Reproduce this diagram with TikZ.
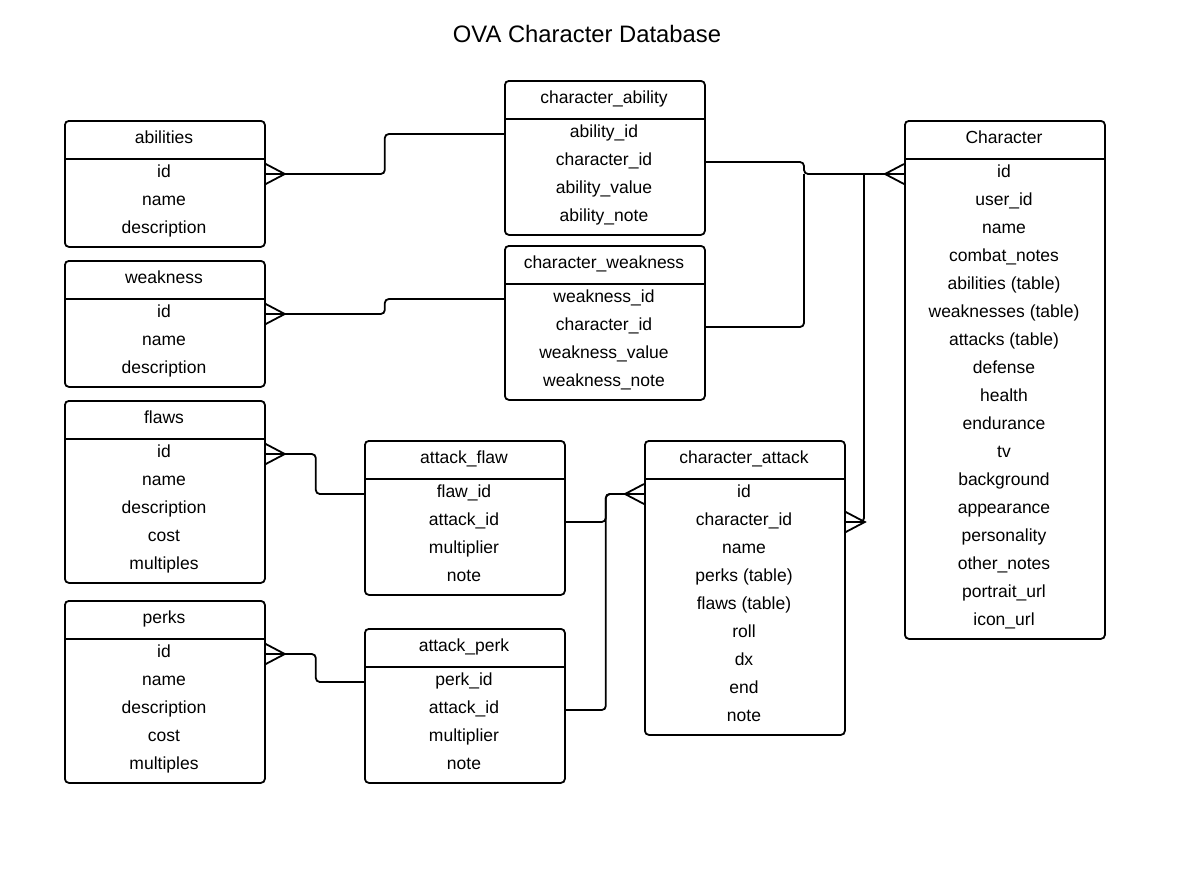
\documentclass[tikz,border=0pt]{standalone}
\usepackage{fontspec}
\setmainfont{Liberation Sans}
\tikzset{
  entity/.style={draw, line width=1.8pt, rounded corners=4pt, anchor=north west, minimum width=200pt, inner sep=0pt},
  hdr/.style={anchor=base, font=\fontsize{17.5}{20}\selectfont},
  field/.style={anchor=base, font=\fontsize{17.5}{20}\selectfont, text height=11pt, text depth=5pt, inner sep=0pt},
  conn/.style={line width=1.8pt, rounded corners=4pt},
  crowfoot/.pic={\draw[line width=1.8pt] (0,-10) -- (19,0) -- (0,10) (0,0) -- (19,0);}
}
\begin{document}
\begin{tikzpicture}[x=1pt, y=-1pt]
% Canvas
\fill[white] (0,0) rectangle (1193,873);
\useasboundingbox (0,0) rectangle (1193,873);
\node[anchor=base, font=\fontsize{23.8}{28}\selectfont] (title) at (587,42) {OVA Character Database};

% abilities
\node[entity, minimum height=126pt] (abilities) at (64,120) {};
\draw[line width=1.8pt] (abilities.north west) ++(0,39) -- ++(200,0);
\node[hdr] (abilities-h) at (164,143) {abilities};
\foreach \f [count=\i] in {id,name,description} \node[field] (abilities-\i) at (164,{149+28*\i}) {\f};

% weakness
\node[entity, minimum height=126pt] (weakness) at (64,260) {};
\draw[line width=1.8pt] (weakness.north west) ++(0,39) -- ++(200,0);
\node[hdr] (weakness-h) at (164,283) {weakness};
\foreach \f [count=\i] in {id,name,description} \node[field] (weakness-\i) at (164,{289+28*\i}) {\f};

% flaws
\node[entity, minimum height=182pt] (flaws) at (64,400) {};
\draw[line width=1.8pt] (flaws.north west) ++(0,39) -- ++(200,0);
\node[hdr] (flaws-h) at (164,423) {flaws};
\foreach \f [count=\i] in {id,name,description,cost,multiples} \node[field] (flaws-\i) at (164,{429+28*\i}) {\f};

% perks
\node[entity, minimum height=182pt] (perks) at (64,600) {};
\draw[line width=1.8pt] (perks.north west) ++(0,39) -- ++(200,0);
\node[hdr] (perks-h) at (164,623) {perks};
\foreach \f [count=\i] in {id,name,description,cost,multiples} \node[field] (perks-\i) at (164,{629+28*\i}) {\f};

% character_ability
\node[entity, minimum height=154pt] (chability) at (504,80) {};
\draw[line width=1.8pt] (chability.north west) ++(0,39) -- ++(200,0);
\node[hdr] (chability-h) at (604,103) {character\_ability};
\foreach \f [count=\i] in {ability\_id,character\_id,ability\_value,ability\_note} \node[field] (chability-\i) at (604,{109+28*\i}) {\f};

% character_weakness
\node[entity, minimum height=154pt] (chweakness) at (504,245) {};
\draw[line width=1.8pt] (chweakness.north west) ++(0,39) -- ++(200,0);
\node[hdr] (chweakness-h) at (604,268) {character\_weakness};
\foreach \f [count=\i] in {weakness\_id,character\_id,weakness\_value,weakness\_note} \node[field] (chweakness-\i) at (604,{274+28*\i}) {\f};

% attack_flaw
\node[entity, minimum height=154pt] (attflaw) at (364,440) {};
\draw[line width=1.8pt] (attflaw.north west) ++(0,39) -- ++(200,0);
\node[hdr] (attflaw-h) at (464,463) {attack\_flaw};
\foreach \f [count=\i] in {flaw\_id,attack\_id,multiplier,note} \node[field] (attflaw-\i) at (464,{469+28*\i}) {\f};

% attack_perk
\node[entity, minimum height=154pt] (attperk) at (364,628) {};
\draw[line width=1.8pt] (attperk.north west) ++(0,39) -- ++(200,0);
\node[hdr] (attperk-h) at (464,651) {attack\_perk};
\foreach \f [count=\i] in {perk\_id,attack\_id,multiplier,note} \node[field] (attperk-\i) at (464,{657+28*\i}) {\f};

% character_attack
\node[entity, minimum height=294pt] (chattack) at (644,440) {};
\draw[line width=1.8pt] (chattack.north west) ++(0,39) -- ++(200,0);
\node[hdr] (chattack-h) at (744,463) {character\_attack};
\foreach \f [count=\i] in {id,character\_id,name,perks (table),flaws (table),roll,dx,end,note} \node[field] (chattack-\i) at (744,{469+28*\i}) {\f};

% Character
\node[entity, minimum height=518pt] (character) at (904,120) {};
\draw[line width=1.8pt] (character.north west) ++(0,39) -- ++(200,0);
\node[hdr] (character-h) at (1004,143) {Character};
\foreach \f [count=\i] in {id,user\_id,name,combat\_notes,abilities (table),weaknesses (table),attacks (table),defense,health,endurance,tv,background,appearance,personality,other\_notes,portrait\_url,icon\_url} \node[field] (character-\i) at (1004,{149+28*\i}) {\f};

% Connectors
\coordinate (hub) at (804,174);
\coordinate (hub2) at (864,174);
\draw[conn] (abilities-1 -| abilities.east) -- ++(119,0) |- (chability-1 -| chability.west);
\draw[conn] (weakness-1 -| weakness.east) -- ++(119,0) |- (chweakness-1 -| chweakness.west);
\draw[conn] (chability-2 -| chability.east) -| (hub) -- (character-1 -| character.west);
\draw[conn] (chweakness-2 -| chweakness.east) -| (hub);
\draw[conn] (chattack-2 -| chattack.east) -| (hub2);
\draw[conn] (flaws-1 -| flaws.east) -- ++(50,0) |- (attflaw-1 -| attflaw.west);
\draw[conn] (perks-1 -| perks.east) -- ++(50,0) |- (attperk-1 -| attperk.west);
\draw[conn] (attflaw-2 -| attflaw.east) -- ++(40,0) |- (chattack-1 -| chattack.west);
\draw[conn] (attperk-2 -| attperk.east) -- ++(40,0) |- (chattack-1 -| chattack.west);

% Crow's feet
\path (abilities-1 -| abilities.east) pic {crowfoot};
\path (weakness-1 -| weakness.east) pic {crowfoot};
\path (flaws-1 -| flaws.east) pic {crowfoot};
\path (perks-1 -| perks.east) pic {crowfoot};
\path (chattack-2 -| chattack.east) pic {crowfoot};
\path (character-1 -| character.west) pic[xscale=-1] {crowfoot};
\path (chattack-1 -| chattack.west) pic[xscale=-1] {crowfoot};
\end{tikzpicture}
\end{document}
